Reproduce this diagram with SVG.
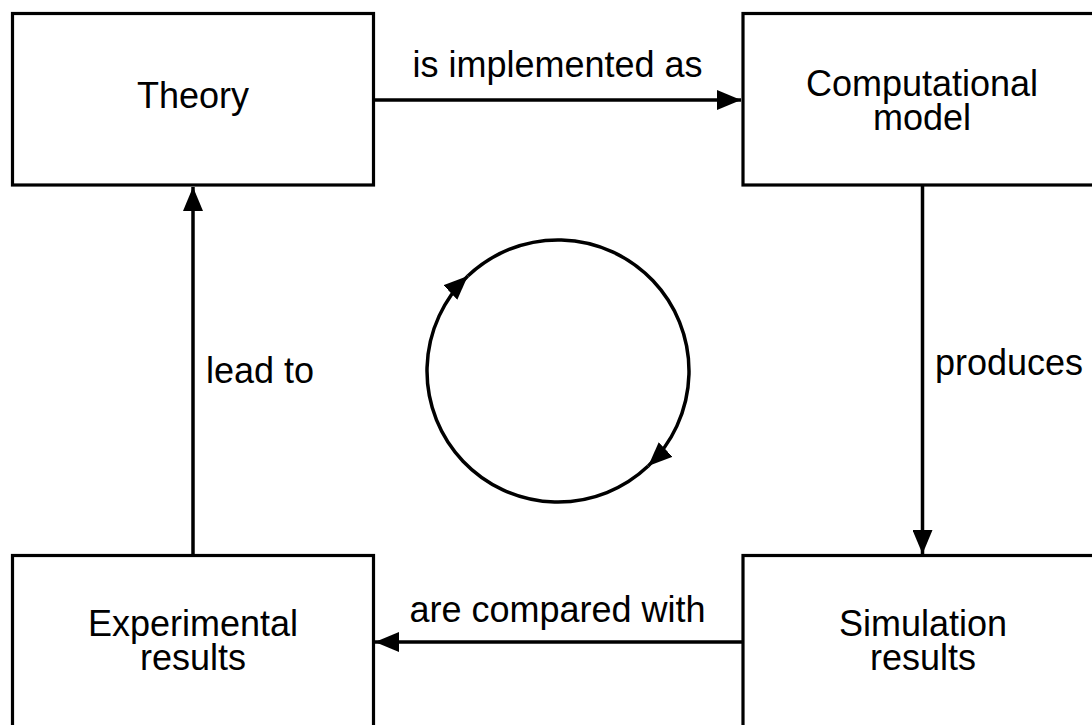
<svg xmlns="http://www.w3.org/2000/svg" width="1092" height="725" viewBox="0 0 1092 725">
<style>
.box{fill:#fff;stroke:#000;stroke-width:3.2}
.lbl{font-family:"Liberation Sans",Arial,Helvetica,sans-serif;font-size:36px;fill:#000;text-anchor:middle}
.edge{fill:none;stroke:#000;stroke-width:3.5}
</style>
<defs>
<marker id="ah" markerUnits="userSpaceOnUse" viewBox="0 0 24 20" refX="24" refY="10" markerWidth="24" markerHeight="20" orient="auto">
<path d="M0,0 L24,10 L0,20 Z" fill="#000"/>
</marker>
</defs>
<rect width="1092" height="725" fill="#fff"/>
<g id="theory"><rect class="box" x="12.5" y="13.5" width="361" height="171.5"/><text class="lbl" x="193" y="108">Theory</text></g>
<g id="model"><rect class="box" x="743" y="13.5" width="361" height="171.5"/><text class="lbl" x="922" y="96">Computational<tspan x="922" y="130">model</tspan></text></g>
<g id="experimental"><rect class="box" x="12.5" y="555.5" width="361" height="180"/><text class="lbl" x="193" y="636">Experimental<tspan x="193" y="670">results</tspan></text></g>
<g id="simulation"><rect class="box" x="743" y="555.5" width="361" height="180"/><text class="lbl" x="923" y="636">Simulation<tspan x="923" y="670">results</tspan></text></g>
<g id="connectors">
<line class="edge" x1="375" y1="100" x2="741" y2="100" marker-end="url(#ah)"/>
<line class="edge" x1="922.5" y1="186" x2="922.5" y2="554" marker-end="url(#ah)"/>
<line class="edge" x1="742" y1="642" x2="375" y2="642" marker-end="url(#ah)"/>
<line class="edge" x1="193" y1="554" x2="193" y2="187" marker-end="url(#ah)"/>
<path class="edge" d="M648.2,466 A131,131 0 0 1 467.8,276" marker-end="url(#ah)"/>
<path class="edge" d="M467.8,276 A131,131 0 0 1 648.2,466" marker-end="url(#ah)"/>
</g>
<g id="labels">
<text class="lbl" x="557.5" y="77">is implemented as</text>
<text class="lbl" x="557.5" y="622">are compared with</text>
<text class="lbl" x="260" y="383">lead to</text>
<text class="lbl" x="1009" y="375">produces</text>
</g>
</svg>
